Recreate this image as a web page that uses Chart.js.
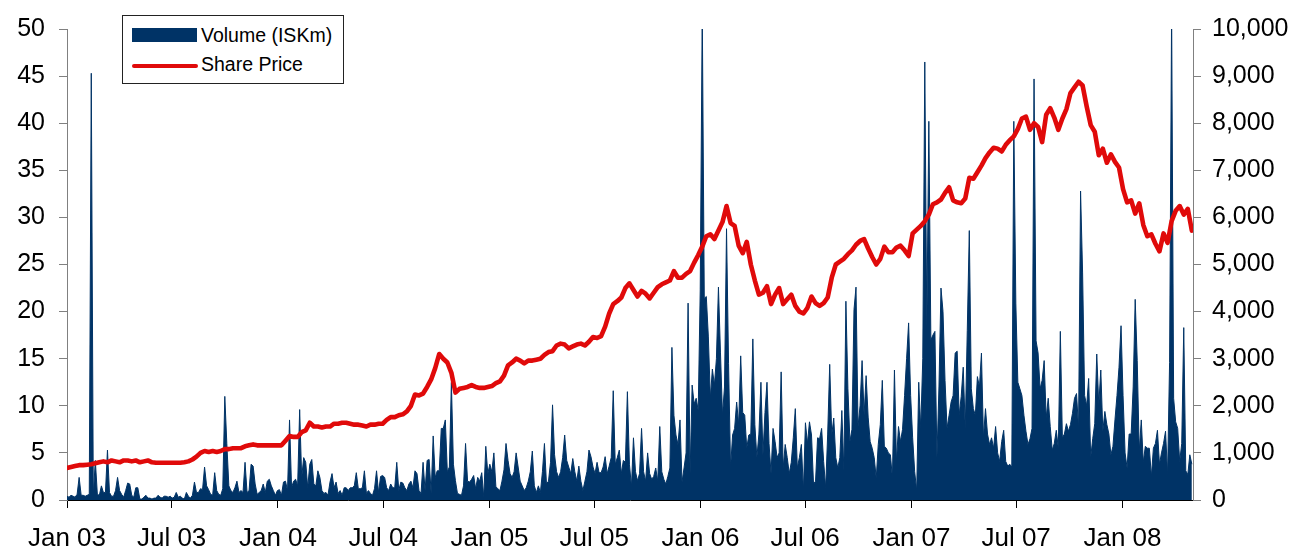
<!DOCTYPE html>
<html>
<head>
<meta charset="utf-8">
<script src="https://cdn.jsdelivr.net/npm/chart.js@4.4.1/dist/chart.umd.min.js"></script>
<style>
  html, body { margin: 0; padding: 0; background: #fff; }
  #wrap { position: relative; width: 1307px; height: 552px; }
  #legend {
    position: absolute; left: 122px; top: 15px; width: 222px; height: 69px;
    border: 1px solid #222; background: #fff; box-sizing: border-box;
    font-family: 'Liberation Sans', Arial, sans-serif; font-size: 19.5px; color: #000;
  }
  #legend .mark { position: absolute; left: 9px; }
  #legend .txt { position: absolute; left: 78px; line-height: 22px; white-space: nowrap; }
</style>
</head>
<body>
<div id="wrap">
  <canvas id="chart" width="1307" height="552"></canvas>
  <div id="legend"></div>
</div>
<script>
// x axis: days since 1 Jan 2003
const tickLabels = ['Jan 03', 'Jul 03', 'Jan 04', 'Jul 04', 'Jan 05', 'Jul 05', 'Jan 06', 'Jul 06', 'Jan 07', 'Jul 07', 'Jan 08'];
const tickDates = ['2003-01-01', '2003-07-01', '2004-01-01', '2004-07-01', '2005-01-01', '2005-07-01',
                   '2006-01-01', '2006-07-01', '2007-01-01', '2007-07-01', '2008-01-01'];

// share price, one reading per week from 1 Jan 2003 (left axis)
const sharePrice = [
  3.4,3.5,3.6,3.7,3.7,3.75,3.8,3.9,4.0,4.1,
  4.0,4.2,4.1,4.0,4.2,4.2,4.1,4.2,4.0,4.1,
  4.2,4.0,3.95,3.95,3.95,3.95,3.95,3.95,3.95,4.0,
  4.1,4.3,4.6,5.0,5.2,5.1,5.2,5.1,5.2,5.4,
  5.4,5.5,5.5,5.5,5.7,5.8,5.9,5.8,5.8,5.8,
  5.8,5.8,5.8,5.8,6.3,6.8,6.7,6.7,7.2,7.4,
  8.2,7.8,7.8,7.7,7.8,7.8,8.1,8.1,8.2,8.2,
  8.1,8.0,8.0,7.9,7.8,8.0,8.0,8.1,8.1,8.5,
  8.8,8.8,9.0,9.1,9.4,10.0,11.2,11.1,11.3,12.0,
  12.8,14.0,15.5,15.0,14.6,13.5,11.4,11.8,11.9,12.0,
  12.2,12.0,11.9,11.9,12.0,12.1,12.4,12.6,13.2,14.3,
  14.6,15.0,14.8,14.5,14.8,14.8,14.9,15.0,15.4,15.7,
  15.8,16.4,16.6,16.5,16.1,16.3,16.5,16.6,16.4,16.8,
  17.3,17.2,17.4,18.4,19.8,20.8,21.1,21.5,22.5,23.0,
  22.3,21.6,22.2,21.9,21.4,22.0,22.6,22.9,23.1,23.3,
  24.3,23.6,23.6,24.0,24.3,25.2,26.0,26.9,28.0,28.2,
  27.7,28.6,29.5,31.2,29.4,29.1,27.0,26.2,27.4,25.0,
  23.3,21.8,22.0,22.7,20.8,21.8,22.5,20.8,21.3,21.8,
  20.6,20.0,19.8,20.4,21.6,20.9,20.6,20.9,21.5,23.6,
  25.0,25.3,25.6,26.1,26.5,27.1,27.5,27.7,26.7,25.8,
  25.0,25.6,26.9,26.3,26.3,26.8,27.0,26.5,25.9,28.3,
  28.7,29.1,29.6,30.3,31.4,31.6,31.9,32.6,33.2,31.8,
  31.6,31.5,32.0,34.2,34.1,34.8,35.5,36.3,36.9,37.4,
  37.3,37.0,37.7,38.2,38.6,39.4,40.5,40.7,39.3,40.0,
  39.6,38.0,40.9,41.6,40.6,39.3,40.5,41.5,43.2,43.8,
  44.4,44.0,41.8,39.8,39.1,36.6,37.3,35.8,36.7,35.9,
  35.3,33.0,31.6,31.8,30.4,31.5,29.2,28.0,28.2,27.2,
  26.4,28.3,27.3,29.6,30.7,31.2,30.3,30.9,28.6
];

// volume in ISKm, two readings per week from 1 Jan 2003 (right axis)
const volume = [
  80,60,100,80,60,120,480,100,100,80,
  100,120,9060,100,840,120,100,300,160,160,
  1060,160,80,80,200,480,200,120,60,200,
  360,340,100,60,260,260,20,20,60,100,
  40,40,20,40,40,100,60,40,80,80,
  60,80,40,60,160,60,80,40,20,160,
  80,40,100,380,160,160,240,220,700,300,
  220,120,100,580,200,120,100,240,2200,1200,
  300,200,160,260,400,160,200,160,800,160,
  200,760,720,340,120,160,200,340,160,400,
  440,300,200,100,200,220,100,380,400,200,
  1700,260,400,440,300,1920,480,900,800,260,
  760,860,340,300,620,480,200,140,160,100,
  380,560,260,380,140,200,100,260,260,200,
  260,260,300,580,240,240,260,620,140,200,
  140,100,240,620,160,500,520,480,260,200,
  340,260,260,800,200,380,360,260,200,340,
  400,260,620,560,200,140,800,200,840,860,
  140,1360,480,620,620,1520,1520,1700,600,700,
  2500,760,410,140,120,100,300,1200,400,380,
  440,520,240,480,400,580,60,1140,560,760,
  600,1000,280,240,200,400,640,1200,840,560,
  480,600,1000,700,400,300,200,260,400,600,
  1040,300,160,300,160,600,1200,340,400,800,
  2020,960,600,480,600,900,1380,840,700,560,
  880,600,400,720,400,200,400,600,1060,920,
  700,560,800,580,580,700,920,560,720,900,
  2320,760,900,1060,560,840,800,2300,760,280,
  1320,600,410,560,1520,600,400,1000,560,440,
  500,680,400,1560,600,440,340,500,680,3240,
  1800,1380,1180,1700,380,680,1000,4180,560,2440,
  2040,2160,1900,4460,10400,4280,4320,3480,2160,2780,
  2440,3000,4520,3140,1800,2400,5760,2900,680,1380,
  1520,2080,1600,3060,1860,1800,1100,1380,1400,3420,
  1600,900,1400,2500,960,1860,2500,1200,560,1520,
  1240,900,1000,2720,680,1180,900,560,800,1320,
  1940,680,900,1180,200,1640,1200,1660,1380,340,
  400,1320,1300,1520,820,260,1400,2880,1380,1740,
  900,680,900,1900,620,4220,2360,1240,1500,4040,
  4520,1560,2000,2960,1800,2640,1760,1240,1100,900,
  460,1180,1600,2540,1140,1100,1000,960,460,2760,
  820,1560,1240,1500,2220,3000,3760,2220,1320,600,
  200,2500,1520,3000,9300,3680,8040,3400,3500,3580,
  900,2400,4500,4000,2540,1520,1800,2080,2220,3120,
  3160,1800,2200,2820,1520,3600,5720,2360,1940,1800,
  2620,2400,3120,1320,1940,1400,1180,1320,1100,1560,
  1000,820,1240,1480,820,720,760,700,8040,4180,
  2500,2360,2220,1800,1460,1180,1300,1520,8940,3380,
  3120,2360,2540,2960,1740,2160,1560,1060,1200,1480,
  1100,3580,1320,1400,1620,1460,1600,1840,2160,2260,
  1520,6560,4820,2220,2000,2580,900,1300,1620,3100,
  2020,2760,1460,1880,1600,1400,960,1140,1700,2220,
  2820,3700,2220,1000,680,1400,1400,2400,4260,2960,
  1040,1700,800,1140,1100,1100,500,1100,1200,1480,
  760,1000,1200,1460,540,2920,10400,2160,1660,1520,
  820,1200,3660,620,540,960,760
];

const NAVY = '#003366';
const RED = '#e00a0a';
const DAY = 86400000;
const start = Date.UTC(2003, 0, 1);
const tickDays = tickDates.map(d => Math.round((Date.parse(d) - start) / DAY));

const priceData = sharePrice.map((v, i) => ({ x: i * 7, y: v }));
const volumeData = volume.map((v, i) => ({ x: i * 3.5, y: v }));

const font = { family: "'Liberation Sans', Arial, sans-serif", size: 25 };
const xFont = { family: "'Liberation Sans', Arial, sans-serif", size: 26 };

const chart = new Chart(document.getElementById('chart'), {
  type: 'line',
  data: {
    datasets: [
      {
        label: 'Share Price',
        data: priceData,
        yAxisID: 'y',
        borderColor: RED,
        backgroundColor: RED,
        borderWidth: 4.6,
        borderJoinStyle: 'round',
        borderCapStyle: 'round',
        pointRadius: 0,
        tension: 0,
        order: 0
      },
      {
        label: 'Volume (ISKm)',
        data: volumeData,
        yAxisID: 'y1',
        borderColor: NAVY,
        backgroundColor: NAVY,
        borderWidth: 1,
        fill: 'origin',
        pointRadius: 0,
        tension: 0,
        order: 1
      }
    ]
  },
  options: {
    responsive: false,
    animation: false,
    devicePixelRatio: 1,
    layout: { padding: { top: 24, left: 0, right: 0, bottom: 0 } },
    plugins: { legend: { display: false }, tooltip: { enabled: false } },
    scales: {
      x: {
        type: 'linear',
        min: 0,
        max: 1948,
        afterBuildTicks: s => { s.ticks = tickDays.map(v => ({ value: v })); },
        afterFit: s => { s.height = 52; },
        ticks: {
          callback: (v, i) => tickLabels[i],
          autoSkip: false, maxRotation: 0, padding: 15,
          color: '#000', font: xFont
        },
        grid: { drawOnChartArea: false, drawTicks: true, tickLength: 8, color: '#000' },
        border: { color: '#000', width: 1 }
      },
      y: {
        position: 'left',
        min: 0,
        max: 50,
        afterFit: s => { s.width = 67; },
        ticks: { stepSize: 5, padding: 14, color: '#000', font: font },
        grid: { drawOnChartArea: false, tickLength: 8, color: '#808080' },
        border: { color: '#808080', width: 1 }
      },
      y1: {
        position: 'right',
        min: 0,
        max: 10000,
        afterFit: s => { s.width = 114; },
        ticks: {
          stepSize: 1000, padding: 11, color: '#000', font: font,
          callback: v => v.toLocaleString('en-US')
        },
        grid: { drawOnChartArea: false, tickLength: 8, color: '#808080' },
        border: { color: '#808080', width: 1 }
      }
    }
  }
});

// legend box inside the plot, built from the datasets
const legend = document.getElementById('legend');
[chart.data.datasets[1], chart.data.datasets[0]].forEach((ds, i) => {
  const mark = document.createElement('div');
  mark.className = 'mark';
  if (ds.fill) {
    Object.assign(mark.style, { top: '12px', width: '65px', height: '14px', background: ds.backgroundColor });
  } else {
    Object.assign(mark.style, { top: '48px', width: '66px', height: '4px', background: ds.borderColor, borderRadius: '2px' });
  }
  const txt = document.createElement('div');
  txt.className = 'txt';
  txt.style.top = (i === 0 ? 8 : 37) + 'px';
  txt.textContent = ds.label;
  legend.appendChild(mark);
  legend.appendChild(txt);
});
</script>
</body>
</html>
